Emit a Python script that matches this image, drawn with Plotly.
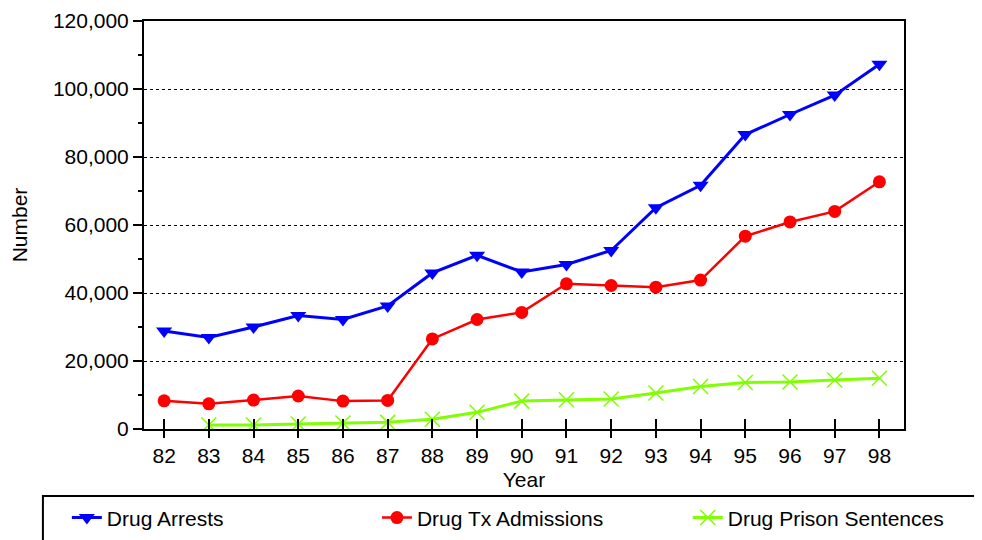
import plotly.graph_objects as go

years = [82, 83, 84, 85, 86, 87, 88, 89, 90, 91, 92, 93, 94, 95, 96, 97, 98]
arrests = [28800, 26900, 30000, 33400, 32200, 36200, 45900, 51100, 46200, 48400,
           52500, 65100, 71700, 86600, 92500, 98200, 107300]
tx_admissions = [8300, 7400, 8500, 9700, 8200, 8400, 26500, 32200, 34300, 42700,
                 42200, 41700, 43800, 56700, 60900, 64000, 72700]
prison_years = [83, 84, 85, 86, 87, 88, 89, 90, 91, 92, 93, 94, 95, 96, 97, 98]
prison = [1200, 1200, 1450, 1750, 1950, 2850, 4900, 8200, 8600, 8800, 10600,
          12500, 13700, 13800, 14400, 14900]

FONT = "Liberation Sans, Arial, sans-serif"
BLUE = "#0000FF"
RED = "#FF0000"
GREEN = "#7FFF00"
FS = 21

fig = go.Figure()
fig.add_trace(go.Scatter(x=years, y=arrests, name="Drug Arrests", mode="lines+markers",
                         line=dict(color=BLUE, width=3), legend="legend",
                         marker=dict(symbol="triangle-down", size=14, color=BLUE)))
fig.add_trace(go.Scatter(x=years, y=tx_admissions, name="Drug Tx Admissions", mode="lines+markers",
                         line=dict(color=RED, width=2.5), legend="legend2",
                         marker=dict(symbol="circle", size=13, color=RED)))
fig.add_trace(go.Scatter(x=prison_years, y=prison, name="Drug Prison Sentences", mode="lines+markers",
                         line=dict(color=GREEN, width=3), legend="legend3",
                         marker=dict(symbol="x-thin", size=15, line=dict(color=GREEN, width=1.5))))
# invisible helper trace for the overlaid tick axis
fig.add_trace(go.Scatter(x=[years[0]], y=[0], xaxis="x2", mode="markers",
                         marker=dict(opacity=0), showlegend=False, hoverinfo="skip"))

leg_common = dict(orientation="h", xanchor="left", y=-0.218, yanchor="middle",
                  font=dict(family=FONT, size=FS, color="black"),
                  bgcolor="rgba(0,0,0,0)")

fig.update_layout(
    width=982, height=540,
    margin=dict(l=136, r=86, t=13, b=119, autoexpand=False),
    paper_bgcolor="white", plot_bgcolor="white",
    font=dict(family=FONT, size=FS, color="black"),
    separators=".,",
    showlegend=True,
    legend=dict(x=-0.1015, **leg_common),
    legend2=dict(x=0.3065, **leg_common),
    legend3=dict(x=0.7155, **leg_common),
    xaxis=dict(range=[81.55, 98.55], tickmode="array", tickvals=years,
               ticktext=[str(y) for y in years],
               ticks="outside", ticklen=7, tickwidth=2, tickcolor="black",
               showline=True, linewidth=2, linecolor="black", mirror=True,
               showgrid=False, zeroline=False,
               title=dict(text="Year", standoff=6, font=dict(size=FS))),
    xaxis2=dict(overlaying="x", range=[81.55, 98.55], tickmode="array", tickvals=years,
                ticks="inside", ticklen=10, tickwidth=2, tickcolor="black",
                showticklabels=False, showline=False, showgrid=False, zeroline=False,
                side="bottom", anchor="y"),
    yaxis=dict(range=[0, 120000], tickmode="linear", tick0=0, dtick=20000,
               tickformat=",d",
               ticks="outside", ticklen=9, tickwidth=2, tickcolor="black",
               minor=dict(dtick=10000, ticks="outside", ticklen=4, tickwidth=2, tickcolor="black",
                          showgrid=False),
               showline=True, linewidth=2, linecolor="black", mirror=True,
               showgrid=True, gridcolor="black", gridwidth=1, griddash="dot",
               zeroline=False,
               title=dict(text="Number", standoff=24, font=dict(size=FS))),
    shapes=[dict(type="rect", xref="paper", yref="paper",
                 x0=-0.133, x1=1.3, y0=-0.164, y1=-0.6,
                 line=dict(color="black", width=2), fillcolor="rgba(0,0,0,0)", layer="above")],
)

fig.write_html("out.html")
